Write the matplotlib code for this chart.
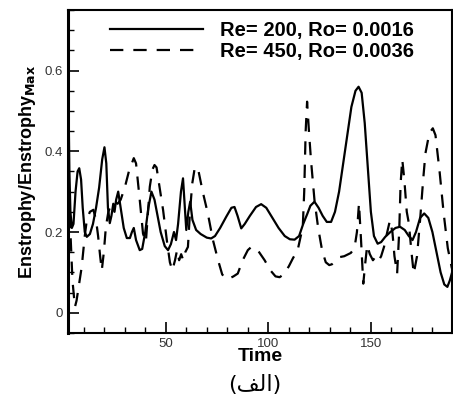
import matplotlib
matplotlib.use("Agg")
import matplotlib.pyplot as plt
from matplotlib.ticker import MultipleLocator

# ===== data =====
time_re200 = [2.5, 3.0, 3.5, 4.2, 5.0, 6.0, 7.0, 7.8, 8.7, 9.5, 10.5, 11.5, 13.0, 14.5,
              16.0, 17.5, 19.0, 20.1, 21.0, 21.8, 22.7, 23.5, 24.4, 25.0, 25.8, 26.8,
              28.0, 29.5, 31.0, 32.5, 33.5, 34.4, 35.5, 37.3, 38.5, 40.0, 41.5, 43.0,
              44.5, 46.0, 47.5, 49.5, 51.1, 52.5, 54.0, 55.0, 56.0, 57.4, 58.4, 59.3,
              60.0, 61.0, 61.9, 63.0, 64.8, 67.0, 70.0, 72.1, 74.0, 76.5, 79.5, 82.0,
              83.5, 85.0, 86.8, 88.5, 91.0, 94.0, 96.5, 99.0, 102.0, 105.0, 108.0,
              110.5, 112.8, 115.0, 117.0, 119.0, 120.5, 122.5, 124.5, 126.5, 128.5,
              130.6, 132.5, 134.5, 136.5, 138.5, 140.5, 142.5, 144.0, 145.5, 147.0,
              148.5, 150.0, 151.5, 153.3, 155.0, 157.0, 159.5, 162.0, 164.2, 166.5,
              168.5, 170.3, 172.0, 174.0, 176.0, 178.0, 180.0, 182.0, 184.0, 185.8,
              187.3, 188.5, 189.6]
ens_re200 = [0.55, 0.35, 0.25, 0.21, 0.22, 0.30, 0.35, 0.358, 0.33, 0.26, 0.20, 0.188,
             0.195, 0.22, 0.26, 0.31, 0.38, 0.41, 0.37, 0.26, 0.222, 0.24, 0.27, 0.25,
             0.28, 0.30, 0.26, 0.21, 0.185, 0.185, 0.20, 0.21, 0.18, 0.155, 0.158, 0.20,
             0.26, 0.30, 0.28, 0.24, 0.20, 0.165, 0.155, 0.17, 0.20, 0.18, 0.22, 0.30,
             0.333, 0.26, 0.205, 0.25, 0.275, 0.23, 0.205, 0.195, 0.186, 0.184, 0.19,
             0.21, 0.238, 0.26, 0.262, 0.24, 0.209, 0.22, 0.24, 0.262, 0.269, 0.26,
             0.235, 0.21, 0.19, 0.182, 0.181, 0.19, 0.22, 0.245, 0.265, 0.275, 0.26,
             0.24, 0.225, 0.225, 0.25, 0.30, 0.37, 0.44, 0.51, 0.55, 0.56, 0.545, 0.47,
             0.36, 0.25, 0.19, 0.171, 0.175, 0.188, 0.20, 0.21, 0.213, 0.205, 0.19,
             0.18, 0.20, 0.235, 0.246, 0.235, 0.20, 0.15, 0.10, 0.07, 0.064, 0.08, 0.10]

time_re450 = [2.5, 3.5, 4.5, 5.7, 6.5, 8.0, 9.0, 10.5, 11.5, 13.0, 14.7, 16.0, 17.0,
              18.0, 18.8, 19.8, 20.8, 22.0, 23.5, 25.0, 26.5, 28.0, 30.0, 32.0, 34.4,
              35.5, 37.3, 38.9, 40.3, 41.2, 42.2, 43.5, 44.5, 45.5, 47.0, 48.7, 50.5,
              52.0, 53.2, 54.5, 55.5, 56.5, 57.5, 58.5, 59.5, 60.8, 61.8, 62.9, 64.0,
              64.8, 66.0, 68.0, 70.5, 73.0, 75.5, 77.5, 79.2, 81.0, 83.0, 85.1, 87.5,
              90.0, 91.5, 93.3, 95.5, 98.2, 101.0, 103.5, 105.5, 107.5, 110.0, 112.0,
              114.3, 116.8, 117.5, 118.2, 118.9, 119.8, 120.8, 122.5, 124.3, 126.2,
              128.0, 129.7, 131.0, 133.0, 135.0, 137.0, 139.0, 140.2, 142.0, 143.2,
              144.2, 145.2, 146.3, 147.2, 148.2, 149.5, 151.0, 152.5, 153.9, 155.0,
              156.4, 158.0, 159.3, 160.5, 161.5, 162.8, 163.8, 164.5, 165.3, 166.3,
              167.5, 168.5, 169.8, 170.9, 172.5, 174.0, 175.5, 176.6, 178.5, 180.2,
              181.5, 183.5, 185.5, 187.5, 189.5]
ens_re450 = [0.30, 0.20, 0.08, 0.014, 0.03, 0.08, 0.113, 0.19, 0.23, 0.25, 0.255, 0.23,
             0.19, 0.14, 0.105, 0.15, 0.213, 0.25, 0.27, 0.275, 0.27, 0.28, 0.31, 0.35,
             0.383, 0.37, 0.28, 0.196, 0.175, 0.24, 0.312, 0.355, 0.366, 0.36, 0.31,
             0.254, 0.18, 0.125, 0.105, 0.13, 0.155, 0.13, 0.145, 0.13, 0.15, 0.163,
             0.25, 0.32, 0.355, 0.362, 0.35, 0.30, 0.246, 0.18, 0.13, 0.095, 0.084,
             0.085, 0.09, 0.097, 0.13, 0.155, 0.162, 0.162, 0.15, 0.13, 0.105, 0.09,
             0.088, 0.095, 0.115, 0.135, 0.155, 0.213, 0.30, 0.45, 0.523, 0.45, 0.378,
             0.279, 0.21, 0.155, 0.125, 0.118, 0.12, 0.13, 0.138, 0.14, 0.145, 0.148,
             0.16, 0.20, 0.271, 0.18, 0.072, 0.12, 0.167, 0.145, 0.13, 0.14, 0.13,
             0.14, 0.163, 0.20, 0.229, 0.20, 0.14, 0.097, 0.20, 0.32, 0.38, 0.33, 0.25,
             0.222, 0.15, 0.097, 0.14, 0.23, 0.33, 0.395, 0.445, 0.457, 0.44, 0.35,
             0.246, 0.16, 0.11]

label_re200 = "Re= 200, Ro= 0.0016"
label_re450 = "Re= 450, Ro= 0.0036"
caption = "(\ufed2\ufedf\ufe8d)"  # (الف) in visual order

plt.rcParams['font.family'] = ['Liberation Sans', 'DejaVu Sans']

fig = plt.figure(figsize=(4.53, 4.03), dpi=100)
ax = fig.add_axes([0.150, 0.174, 0.848, 0.801])

ax.plot(time_re200, ens_re200, color='black', lw=1.6, label=label_re200)
ax.plot(time_re450, ens_re450, color='black', lw=1.6, dashes=(6, 4.5), label=label_re450)

ax.set_xlim(2.3, 189.6)
ax.set_ylim(-0.05, 0.75)
ax.xaxis.set_major_locator(MultipleLocator(50))
ax.xaxis.set_minor_locator(MultipleLocator(10))
ax.yaxis.set_minor_locator(MultipleLocator(0.05))
ax.set_yticks([0, 0.2, 0.4, 0.6])
ax.set_yticklabels(['0', '0.2', '0.4', '0.6'])
ax.tick_params(which='major', direction='in', length=8, width=1.2, labelsize=9.5,
               labelcolor='#333333', top=False, right=False)
ax.tick_params(which='minor', direction='in', length=4, width=1.0, top=False, right=False)
for s in ax.spines.values():
    s.set_linewidth(1.5)
ax.spines['left'].set_linewidth(2.2)

ax.set_xlabel("Time", fontsize=14, fontweight='bold', labelpad=-1)
ax.set_ylabel("Enstrophy/Enstrophy$_{\\mathbf{Max}}$", fontsize=13, fontweight='bold', labelpad=5)

leg = ax.legend(loc='upper right', bbox_to_anchor=(0.93, 1.0), frameon=False,
                handlelength=4.6, handletextpad=0.85,
                prop={'weight': 'bold', 'size': 14.5}, borderaxespad=0.15, labelspacing=0.1)

fig.text(0.563, 0.045, caption, ha='center', va='center', fontsize=16,
         family=['DejaVu Sans'])

fig.savefig("out.png", dpi=100)
